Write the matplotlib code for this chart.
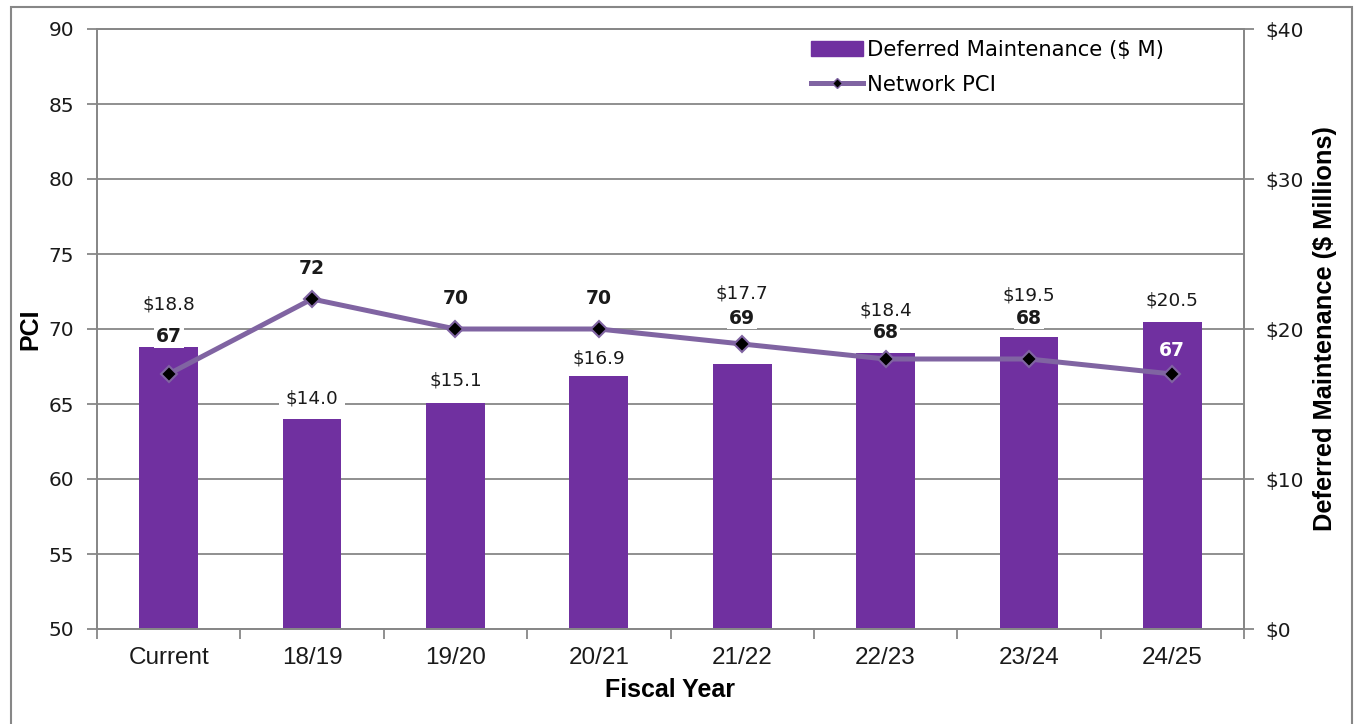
import numpy as np
import matplotlib.pyplot as plt
from matplotlib.patches import Rectangle, Patch
from matplotlib.lines import Line2D

plt.rcParams['font.family'] = ['DejaVu Sans']

years = ['Current', '18/19', '19/20', '20/21', '21/22', '22/23', '23/24', '24/25']
deferred = [18.8, 14.0, 15.1, 16.9, 17.7, 18.4, 19.5, 20.5]   # $ millions
pci = [67, 72, 70, 70, 69, 68, 68, 67]

# data labels were nudged by hand in the original, pixels above the point
cost_label_dy = [43, 21, 22, 17, 70, 43, 41, 21]
pci_label_dy = [37, 30, 30, 30, 26, 26, 41, 24]

bar_color = '#7030A0'
line_color = '#8064A2'
grid_color = '#878787'
text_color = '#1a1a1a'

W, H = 1358, 724
fig = plt.figure(figsize=(W / 100, H / 100), dpi=100)

# outer chart border (runs off the bottom of the image)
fig.patches.append(Rectangle((11 / W, -0.1), (1352 - 11) / W, 1.1 - 7 / H,
                             transform=fig.transFigure, fill=False,
                             ec=grid_color, lw=1.5))

rect = [97 / W, (H - 629) / H, 1147 / W, 600 / H]
ax = fig.add_axes(rect)      # PCI, left
ax2 = ax.twinx()             # dollars, right
ax.set_zorder(3)
ax2.set_zorder(1)
ax.patch.set_visible(False)

x = np.arange(len(years))

# bars + grid on the back axis
ax2.bar(x, deferred, width=0.41, color=bar_color, zorder=2)
ax2.set_ylim(0, 40)
ax2.set_yticks(np.arange(0, 41, 10))
ax2.set_yticks(np.arange(5, 41, 10), minor=True)
ax2.set_yticklabels(['${:.0f}'.format(v) for v in np.arange(0, 41, 10)])
ax2.grid(True, which='both', axis='y', color=grid_color, lw=1.3)
ax2.set_axisbelow(True)
ax2.tick_params(axis='y', which='major', length=7, width=1.3, color=grid_color,
                pad=8.5, labelsize=14.5, labelcolor=text_color)
ax2.tick_params(axis='y', which='minor', length=0)

# line on the front axis
ax.plot(x, pci, color=line_color, lw=3.6, marker='D', ms=8.5,
        mfc='black', mec=line_color, mew=1.5, zorder=3)
ax.set_ylim(50, 90)
ax.set_yticks(np.arange(50, 91, 5))
ax.tick_params(axis='y', length=7, width=1.3, color=grid_color, pad=9.5,
               labelsize=14.5, labelcolor=text_color)

ax.set_xlim(-0.5, len(years) - 0.5)
ax.set_xticks(np.arange(-0.5, len(years), 1))
ax.set_xticklabels([])
ax.set_xticks(x, minor=True)
ax.set_xticklabels(years, minor=True, family='Liberation Sans', fontsize=17.5,
                   color=text_color)
ax.tick_params(axis='x', which='major', length=7, width=1.3, color=grid_color)
ax.tick_params(axis='x', which='minor', length=0, pad=13)

for a in (ax, ax2):
    for s in a.spines.values():
        s.set_color(grid_color)
        s.set_linewidth(1.3)

# data labels
for i in x:
    ax2.annotate('${:.1f}'.format(deferred[i]), (i, deferred[i]),
                 xytext=(0, cost_label_dy[i]), textcoords='offset pixels',
                 ha='center', va='center', fontsize=13.3, color=text_color,
                 bbox=dict(boxstyle='square,pad=0.35', fc='white', ec='none'))
    on_bar = i == len(years) - 1
    ax.annotate(str(pci[i]), (i, pci[i]),
                xytext=(0, pci_label_dy[i]), textcoords='offset pixels',
                ha='center', va='center', fontsize=13.5, fontweight='bold',
                color='white' if on_bar else text_color,
                bbox=None if on_bar else dict(boxstyle='square,pad=0.1',
                                              fc='white', ec='none'))

# axis titles
ax.set_ylabel('PCI', family='Liberation Sans', fontweight='bold', fontsize=18,
              va='center')
ax.yaxis.set_label_coords((30 - 97) / 1147, 0.5)
ax2.set_ylabel('Deferred Maintenance ($ Millions)', family='Liberation Sans',
               fontweight='bold', fontsize=18.3, va='center', rotation=90)
ax2.yaxis.set_label_coords((1325 - 97) / 1147, 0.5)
ax.set_xlabel('Fiscal Year', family='Liberation Sans', fontweight='bold',
              fontsize=18, va='center')
ax.xaxis.set_label_coords((670 - 97) / 1147, -(690 - 629) / 600)

handles = [Patch(color=bar_color),
           Line2D([], [], color=line_color, lw=3.6, marker='D', ms=5.5,
                  mfc='black', mec=line_color, mew=1)]
fig.legend(handles, ['Deferred Maintenance ($ M)', 'Network PCI'],
           loc='upper left', bbox_to_anchor=(811 / W, 1 - 40 / H),
           frameon=False, fontsize=15.2, handlelength=2.45, handleheight=0.75,
           handletextpad=0.2, labelspacing=0.7, borderpad=0,
           borderaxespad=0)

fig.savefig('out.png', dpi=100, facecolor='white')
